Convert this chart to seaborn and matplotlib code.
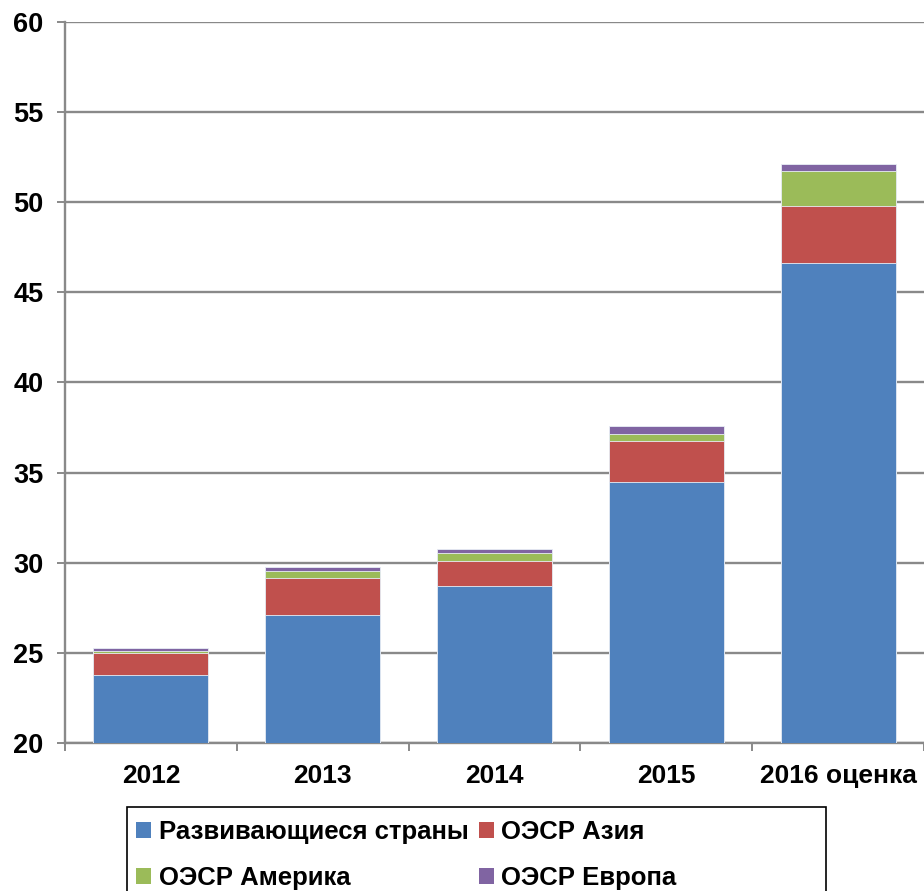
import numpy as np
import pandas as pd
import matplotlib
matplotlib.use("Agg")
import matplotlib.pyplot as plt
import seaborn as sns
from matplotlib.patches import Patch, Rectangle
from matplotlib.ticker import FixedLocator

years = ["2012", "2013", "2014", "2015", "2016 оценка"]
developing = [23.76, 27.08, 28.69, 34.50, 46.61]
oecd_asia = [1.25, 2.09, 1.42, 2.25, 3.20]
oecd_america = [0.09, 0.37, 0.41, 0.37, 1.92]
oecd_europe = [0.15, 0.24, 0.23, 0.47, 0.41]

series_names = ["Развивающиеся страны", "ОЭСР Азия", "ОЭСР Америка", "ОЭСР Европа"]
series_vals = [developing, oecd_asia, oecd_america, oecd_europe]
colors = ["#4F81BD", "#C0504D", "#9BBB59", "#8064A2"]

sns.set_theme(style="white")
plt.rcParams["font.family"] = ["Liberation Sans", "DejaVu Sans"]
plt.rcParams["text.color"] = "black"

fig = plt.figure(figsize=(9.24, 8.91), dpi=100)
ax = fig.add_axes([65 / 924, 1 - 743 / 891, 1 - 65 / 924, (743 - 22) / 891])

cum = np.cumsum(np.array(series_vals), axis=0)
for i in range(len(series_names) - 1, -1, -1):
    df = pd.DataFrame({"year": years, "value": cum[i]})
    sns.barplot(data=df, x="year", y="value", color=colors[i], saturation=1,
                width=0.67, ax=ax, edgecolor="#e8eef6", linewidth=0.6, zorder=3)

grid_c = "#898989"
ax.set_ylim(20, 60)
ax.set_xlim(-0.5, 4.5)
ax.set_yticks(np.arange(20, 61, 5))
ax.yaxis.grid(True, color=grid_c, linewidth=1.7, zorder=0)
ax.set_axisbelow(True)
ax.set_xlabel("")
ax.set_ylabel("")
for s in ["top", "right"]:
    ax.spines[s].set_visible(False)
for s in ["left", "bottom"]:
    ax.spines[s].set_color(grid_c)
    ax.spines[s].set_linewidth(1.7)

ax.tick_params(axis="y", which="major", length=5.5, width=1.4, color=grid_c,
               direction="out", left=True, pad=10, labelsize=19.5)
ax.tick_params(axis="x", which="major", length=0, pad=15, labelsize=19)
ax.xaxis.set_minor_locator(FixedLocator(np.arange(-0.5, 4.6, 1.0)))
ax.tick_params(axis="x", which="minor", length=5.5, width=1.4, color=grid_c,
               direction="out", bottom=True)
for lab in ax.get_xticklabels() + ax.get_yticklabels():
    lab.set_fontweight("bold")
    lab.set_color("black")

# legend filled row by row: (dev, asia) / (america, europe)
order = [0, 2, 1, 3]
handles = [Patch(facecolor=colors[k], edgecolor="none") for k in order]
labels = [series_names[k] for k in order]
leg = fig.legend(handles, labels, loc="upper left",
                 bbox_to_anchor=(118 / 924, 1 - 802 / 891), ncol=2,
                 frameon=False, prop={"size": 18.5, "weight": "bold"},
                 handlelength=0.58, handleheight=0.58, handletextpad=0.3,
                 columnspacing=0.4, labelspacing=0.85, borderpad=0.2)
for t in leg.get_texts():
    t.set_color("black")
fig.add_artist(Rectangle((127 / 924, -0.05), (826 - 127) / 924, 0.05 + 1 - 807 / 891,
                         transform=fig.transFigure, fill=False, edgecolor="black",
                         linewidth=1.2))

fig.savefig("out.png", dpi=100)
